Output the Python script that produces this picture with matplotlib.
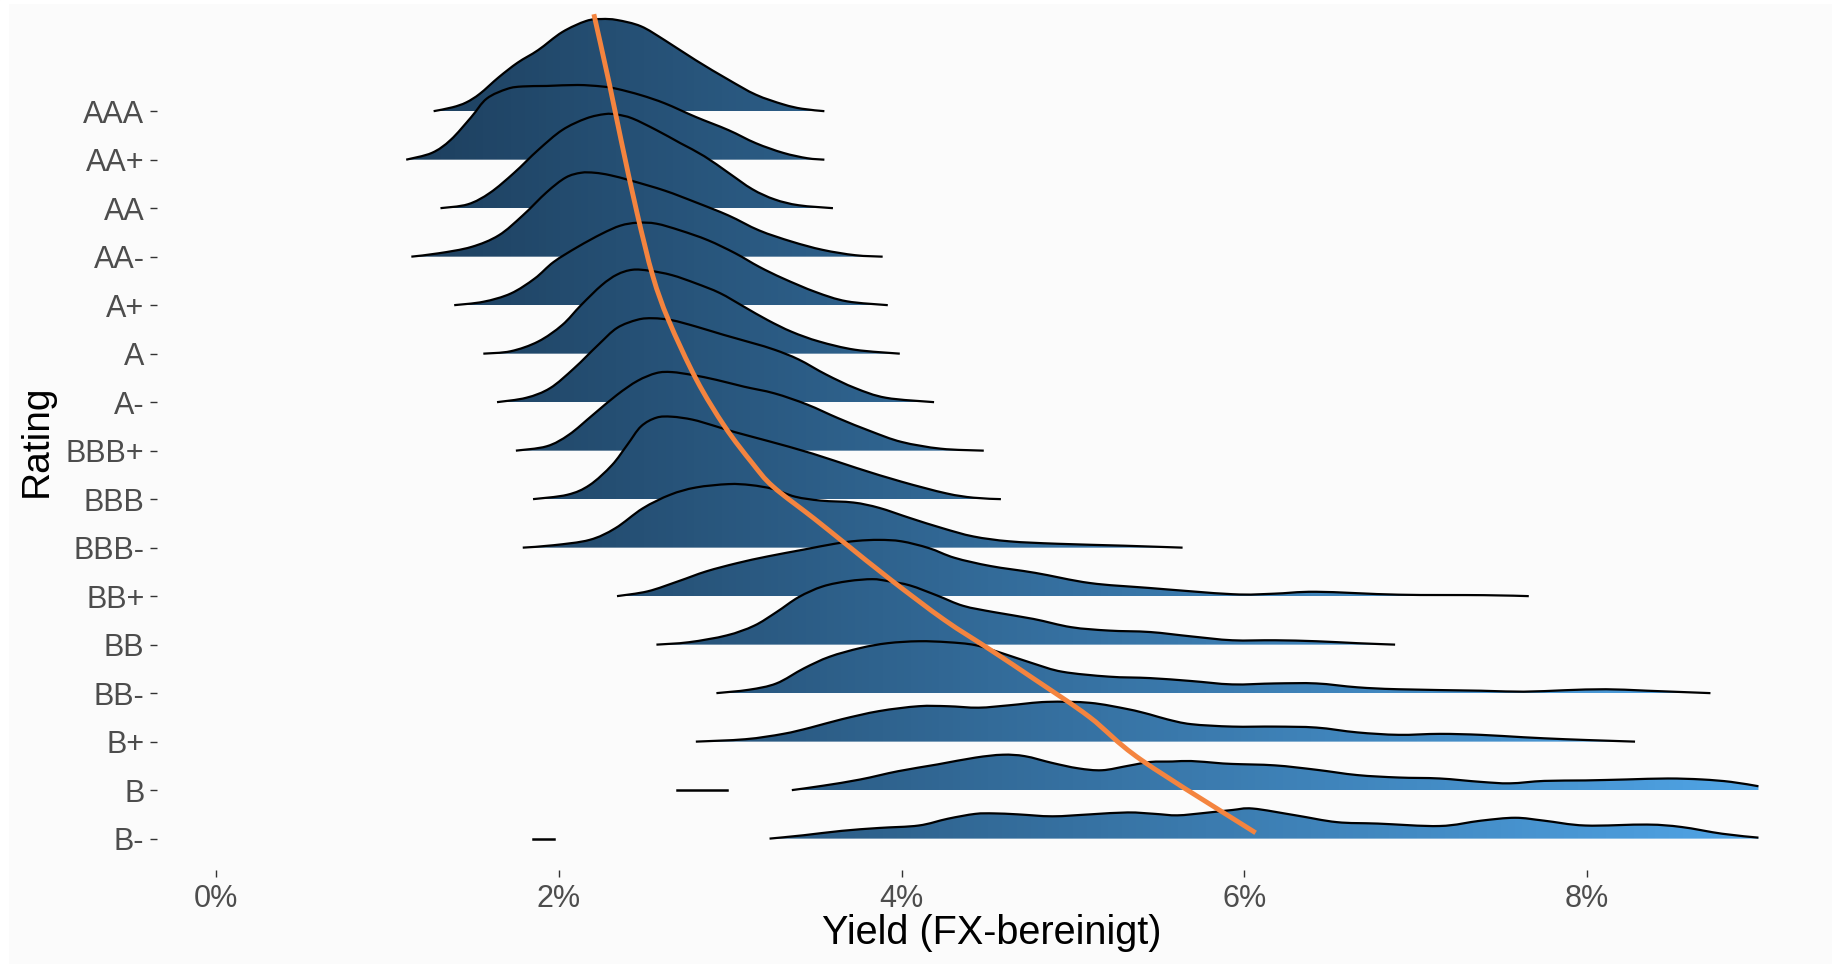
import matplotlib
matplotlib.use("Agg")
import matplotlib.pyplot as plt
import matplotlib.colors as mcolors
from matplotlib.patches import PathPatch, Rectangle
from matplotlib.path import Path
import numpy as np

plt.rcParams["font.family"] = ["Liberation Sans", "DejaVu Sans"]

# ratings, top to bottom
ratings = ["AAA", "AA+", "AA", "AA-", "A+", "A", "A-", "BBB+", "BBB",
           "BBB-", "BB+", "BB", "BB-", "B+", "B", "B-"]

# ridge outlines: yield (%) and height (in rows)
aaa_x = [1.27, 1.38, 1.46, 1.54, 1.65, 1.76, 1.88, 2.02, 2.16, 2.25, 2.34, 2.48, 2.62, 2.80, 2.99, 3.15, 3.31, 3.42, 3.55]
aaa_h = [0, 0.08, 0.18, 0.36, 0.70, 1.00, 1.26, 1.63, 1.86, 1.90, 1.88, 1.75, 1.46, 1.05, 0.65, 0.34, 0.14, 0.05, 0]
aap_x = [1.11, 1.26, 1.37, 1.49, 1.58, 1.70, 1.79, 1.93, 2.11, 2.25, 2.34, 2.48, 2.62, 2.80, 2.99, 3.15, 3.31, 3.45, 3.55]
aap_h = [0, 0.14, 0.41, 0.88, 1.26, 1.46, 1.51, 1.52, 1.54, 1.51, 1.46, 1.33, 1.16, 0.88, 0.61, 0.34, 0.14, 0.03, 0]
aa_x = [1.31, 1.47, 1.60, 1.74, 1.88, 2.02, 2.16, 2.27, 2.34, 2.43, 2.57, 2.71, 2.85, 2.99, 3.13, 3.26, 3.40, 3.60]
aa_h = [0, 0.08, 0.32, 0.73, 1.20, 1.61, 1.85, 1.94, 1.93, 1.85, 1.61, 1.34, 1.07, 0.73, 0.39, 0.18, 0.06, 0]
aam_x = [1.14, 1.30, 1.49, 1.65, 1.79, 1.93, 2.04, 2.13, 2.21, 2.30, 2.43, 2.62, 2.80, 2.99, 3.17, 3.36, 3.54, 3.73, 3.89]
aam_h = [0, 0.07, 0.20, 0.44, 0.85, 1.33, 1.63, 1.73, 1.73, 1.68, 1.56, 1.36, 1.12, 0.85, 0.54, 0.31, 0.14, 0.03, 0]
ap_x = [1.39, 1.56, 1.72, 1.86, 1.97, 2.11, 2.25, 2.36, 2.46, 2.57, 2.71, 2.87, 3.03, 3.17, 3.31, 3.50, 3.68, 3.92]
ap_h = [0, 0.07, 0.24, 0.55, 0.89, 1.20, 1.47, 1.64, 1.70, 1.68, 1.54, 1.34, 1.07, 0.79, 0.55, 0.27, 0.08, 0]
a_x = [1.56, 1.72, 1.88, 2.02, 2.13, 2.25, 2.34, 2.43, 2.53, 2.66, 2.80, 2.94, 3.08, 3.22, 3.36, 3.52, 3.73, 3.99]
a_h = [0, 0.05, 0.25, 0.59, 1.00, 1.41, 1.63, 1.73, 1.71, 1.62, 1.45, 1.25, 0.97, 0.69, 0.45, 0.25, 0.08, 0]
am_x = [1.64, 1.81, 1.95, 2.09, 2.23, 2.34, 2.46, 2.55, 2.66, 2.80, 2.96, 3.13, 3.26, 3.40, 3.56, 3.73, 3.91, 4.19]
am_h = [0, 0.09, 0.29, 0.70, 1.18, 1.53, 1.70, 1.73, 1.69, 1.56, 1.39, 1.22, 1.08, 0.88, 0.57, 0.29, 0.09, 0]
bbbp_x = [1.75, 1.93, 2.06, 2.20, 2.34, 2.46, 2.57, 2.66, 2.78, 2.92, 3.08, 3.26, 3.45, 3.63, 3.82, 4.00, 4.23, 4.48]
bbbp_h = [0, 0.09, 0.33, 0.74, 1.15, 1.44, 1.60, 1.62, 1.56, 1.46, 1.32, 1.18, 0.95, 0.67, 0.40, 0.18, 0.04, 0]
bbb_x = [1.85, 2.05, 2.18, 2.31, 2.40, 2.48, 2.57, 2.66, 2.78, 2.90, 3.03, 3.22, 3.48, 3.74, 4.00, 4.26, 4.42, 4.58]
bbb_h = [0, 0.09, 0.29, 0.70, 1.12, 1.50, 1.68, 1.70, 1.64, 1.52, 1.38, 1.20, 0.94, 0.64, 0.36, 0.12, 0.03, 0]
bbbm_x = [1.79, 1.97, 2.18, 2.33, 2.49, 2.65, 2.80, 2.99, 3.12, 3.25, 3.38, 3.53, 3.72, 3.87, 4.05, 4.24, 4.42, 4.63, 4.91, 5.30, 5.64]
bbbm_h = [0, 0.05, 0.16, 0.40, 0.81, 1.09, 1.24, 1.31, 1.29, 1.21, 1.05, 0.97, 0.93, 0.82, 0.61, 0.40, 0.23, 0.13, 0.08, 0.04, 0]
bbp_x = [2.34, 2.52, 2.70, 2.86, 3.04, 3.22, 3.43, 3.61, 3.74, 3.87, 4.00, 4.16, 4.31, 4.52, 4.78, 5.10, 5.44, 5.93, 6.17, 6.42, 6.90, 7.40, 7.66]
bbp_h = [0, 0.10, 0.31, 0.51, 0.68, 0.82, 0.96, 1.08, 1.14, 1.16, 1.13, 0.99, 0.79, 0.62, 0.48, 0.27, 0.17, 0.04, 0.05, 0.09, 0.03, 0.02, 0]
bb_x = [2.57, 2.76, 2.98, 3.14, 3.27, 3.40, 3.54, 3.69, 3.83, 3.92, 4.05, 4.21, 4.36, 4.54, 4.77, 4.99, 5.21, 5.45, 5.69, 5.93, 6.18, 6.42, 6.66, 6.88]
bb_h = [0, 0.05, 0.19, 0.39, 0.67, 0.98, 1.20, 1.31, 1.35, 1.31, 1.22, 1.01, 0.80, 0.67, 0.53, 0.36, 0.29, 0.26, 0.17, 0.09, 0.09, 0.07, 0.03, 0]
bbm_x = [2.92, 3.11, 3.27, 3.43, 3.58, 3.76, 3.92, 4.10, 4.27, 4.43, 4.59, 4.77, 4.94, 5.21, 5.45, 5.69, 5.93, 6.18, 6.42, 6.66, 6.90, 7.38, 7.63, 7.87, 8.11, 8.35, 8.72]
bbm_h = [0, 0.07, 0.20, 0.51, 0.75, 0.93, 1.03, 1.07, 1.05, 0.99, 0.82, 0.61, 0.44, 0.34, 0.31, 0.25, 0.18, 0.20, 0.20, 0.12, 0.08, 0.05, 0.03, 0.06, 0.08, 0.05, 0]
bp_x = [2.80, 3.09, 3.31, 3.47, 3.65, 3.87, 4.10, 4.27, 4.45, 4.63, 4.85, 5.10, 5.32, 5.45, 5.55, 5.69, 5.93, 6.18, 6.42, 6.66, 6.90, 7.14, 7.38, 7.63, 7.87, 8.11, 8.28]
bp_h = [0, 0.05, 0.16, 0.29, 0.46, 0.63, 0.73, 0.73, 0.70, 0.75, 0.82, 0.80, 0.67, 0.56, 0.46, 0.36, 0.31, 0.31, 0.29, 0.19, 0.14, 0.16, 0.14, 0.09, 0.05, 0.02, 0]
b_x = [3.36, 3.54, 3.76, 3.98, 4.21, 4.43, 4.59, 4.72, 4.88, 5.03, 5.17, 5.32, 5.45, 5.58, 5.69, 5.84, 5.93, 6.18, 6.42, 6.66, 6.90, 7.14, 7.38, 7.55, 7.75, 7.99, 8.23, 8.47, 8.67, 8.84, 9.00]
b_h = [0, 0.09, 0.22, 0.39, 0.53, 0.67, 0.73, 0.70, 0.56, 0.45, 0.41, 0.50, 0.58, 0.59, 0.60, 0.56, 0.54, 0.51, 0.42, 0.31, 0.26, 0.24, 0.17, 0.14, 0.19, 0.20, 0.22, 0.24, 0.22, 0.17, 0.08]
bm_x = [3.23, 3.43, 3.65, 3.87, 4.10, 4.27, 4.43, 4.54, 4.68, 4.88, 5.10, 5.32, 5.48, 5.61, 5.77, 5.93, 6.05, 6.30, 6.54, 6.78, 7.14, 7.38, 7.58, 7.75, 7.99, 8.35, 8.55, 8.79, 9.00]
bm_h = [0, 0.07, 0.16, 0.22, 0.27, 0.41, 0.51, 0.52, 0.50, 0.46, 0.50, 0.54, 0.51, 0.48, 0.53, 0.59, 0.62, 0.48, 0.34, 0.31, 0.26, 0.37, 0.43, 0.37, 0.27, 0.29, 0.24, 0.10, 0.02]

# tiny separate groups (flat dashes)
b_dash = [2.69, 2.98]
bm_dash = [1.85, 1.97]

# orange trend line: yield (%) vs row position (B- = 0)
trend_x = [2.205, 2.295, 2.364, 2.457, 2.549, 2.641, 2.804, 2.97, 3.13, 3.25, 3.49, 3.67, 3.94, 4.25, 4.52, 4.783, 5.096, 5.40, 6.066]
trend_y = [17.0, 15.57, 14.40, 12.9, 11.6, 10.69, 9.46, 8.49, 7.74, 7.26, 6.60, 6.09, 5.33, 4.51, 3.89, 3.27, 2.51, 1.62, 0.12]

xticks = [0, 2, 4, 6, 8]

ridge_x = [aaa_x, aap_x, aa_x, aam_x, ap_x, a_x, am_x, bbbp_x, bbb_x, bbbm_x, bbp_x, bb_x, bbm_x, bp_x, b_x, bm_x]
ridge_h = [aaa_h, aap_h, aa_h, aam_h, ap_h, a_h, am_h, bbbp_h, bbb_h, bbbm_h, bbp_h, bb_h, bbm_h, bp_h, b_h, bm_h]


def curve_path(xs, ys):
    # smooth bezier segments passing through every read point
    pts = np.column_stack([xs, ys])
    ext = np.vstack([pts[0], pts, pts[-1]])
    verts = [pts[0]]
    codes = [Path.MOVETO]
    for k in range(len(pts) - 1):
        p0, p1, p2, p3 = ext[k], ext[k + 1], ext[k + 2], ext[k + 3]
        verts += [p1 + (p2 - p0) / 6, p2 - (p3 - p1) / 6, p2]
        codes += [Path.CURVE4] * 3
    return verts, codes


bg = "#FBFBFB"
fig = plt.figure(figsize=(18.32, 9.64), dpi=100, facecolor=bg)
ax = fig.add_axes([157 / 1832, 94 / 964, 1670 / 1832, 866 / 964])
ax.set_facecolor(bg)

cmap = mcolors.LinearSegmentedColormap.from_list("yl", ["#132B43", "#56B1F7"])
grad = np.linspace(0, 1, 512).reshape(1, -1)
n = len(ratings)

for i in range(n):
    base = n - 1 - i
    xs = np.array(ridge_x[i])
    ys = base + np.array(ridge_h[i])
    verts, codes = curve_path(xs, ys)
    fill_path = Path(verts + [(xs[-1], base), (xs[0], base), (xs[0], base)],
                     codes + [Path.LINETO, Path.LINETO, Path.CLOSEPOLY])
    patch = PathPatch(fill_path, facecolor="none", edgecolor="none")
    ax.add_patch(patch)
    im = ax.imshow(grad, extent=[-0.5, 10.0, base, base + 2.2], cmap=cmap,
                   aspect="auto", origin="lower", zorder=2 + i, interpolation="bilinear")
    im.set_clip_path(patch)
    ax.add_patch(PathPatch(Path(verts, codes), facecolor="none", edgecolor="black",
                           lw=1.6, zorder=2.5 + i, capstyle="butt"))

ax.plot(b_dash, [1, 1], color="black", lw=1.8, zorder=20)
ax.plot(bm_dash, [0, 0], color="black", lw=1.8, zorder=20)

tv, tc = curve_path(trend_x, trend_y)
ax.add_patch(PathPatch(Path(tv, tc), facecolor="none", edgecolor="#F4843F",
                       lw=3.5, zorder=50, capstyle="butt"))

ax.set_xlim(-0.344, 9.4)
ax.set_ylim(-0.647, 17.21)
for s in ax.spines.values():
    s.set_visible(False)

ax.set_yticks(range(n))
ax.set_yticklabels(ratings[::-1])
ax.set_xticks(xticks)
ax.set_xticklabels([f"{t}%" for t in xticks])
ax.tick_params(axis="both", length=5, width=1, color="#333333",
               labelsize=22, labelcolor="#4D4D4D")
ax.tick_params(axis="y", pad=4)
ax.tick_params(axis="x", pad=5)

fig.text(37 / 1832, 1 - 441 / 964, "Rating", rotation=90, ha="center", va="center", fontsize=28)
fig.text(992 / 1832, 1 - 933 / 964, "Yield (FX-bereinigt)", ha="center", va="center", fontsize=28.5)

# thin white border at left and top
fig.patches.append(Rectangle((0, 0), 8 / 1832, 1, transform=fig.transFigure, color="white", zorder=0))
fig.patches.append(Rectangle((0, 1 - 3 / 964), 1, 3 / 964, transform=fig.transFigure, color="white", zorder=0))

fig.savefig("out.png", dpi=100, facecolor=bg)
